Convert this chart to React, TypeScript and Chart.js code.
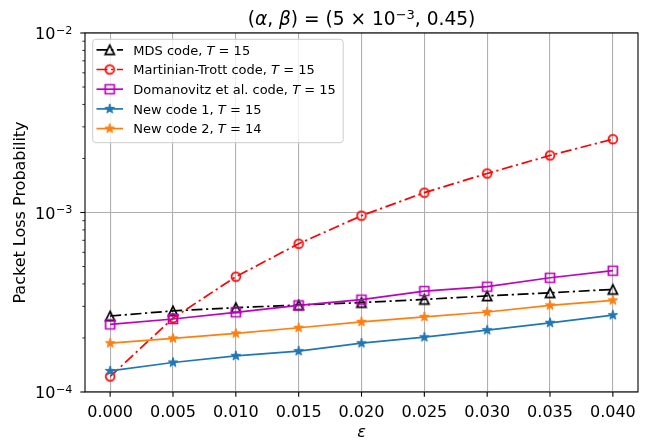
import React, { useEffect, useRef } from 'react';
import { Chart, registerables } from 'chart.js';

Chart.register(...registerables);

// ---------- data ----------
const xValues = [0, 0.005, 0.01, 0.015, 0.02, 0.025, 0.03, 0.035, 0.04];
const mdsValues = [2.65e-4, 2.83e-4, 2.95e-4, 3.05e-4, 3.15e-4, 3.28e-4, 3.43e-4, 3.57e-4, 3.73e-4];
const martinianValues = [1.22e-4, 2.58e-4, 4.39e-4, 6.7e-4, 9.6e-4, 1.29e-3, 1.65e-3, 2.08e-3, 2.56e-3];
const domanovitzValues = [2.38e-4, 2.55e-4, 2.78e-4, 3.04e-4, 3.27e-4, 3.65e-4, 3.86e-4, 4.33e-4, 4.74e-4];
const newCode1Values = [1.31e-4, 1.46e-4, 1.59e-4, 1.69e-4, 1.87e-4, 2.02e-4, 2.21e-4, 2.43e-4, 2.68e-4];
const newCode2Values = [1.87e-4, 1.99e-4, 2.12e-4, 2.28e-4, 2.46e-4, 2.62e-4, 2.79e-4, 3.04e-4, 3.24e-4];

const seriesNames = ['MDS code, ', 'Martinian-Trott code, ', 'Domanovitz et al. code, ', 'New code 1, ', 'New code 2, '];
const seriesT = ['15', '15', '15', '15', '14'];

const xTickValues = [0, 0.005, 0.01, 0.015, 0.02, 0.025, 0.03, 0.035, 0.04];
const xTickLabels = ['0.000', '0.005', '0.010', '0.015', '0.020', '0.025', '0.030', '0.035', '0.040'];
const yMajorTicks = [1e-4, 1e-3, 1e-2];
const yMajorExponents = ['\u22124', '\u22123', '\u22122'];
const yMinorMultipliers = [2, 3, 4, 5, 6, 7, 8, 9];

const titleParts: { t: string; k: 'n' | 'i' | 's' }[] = [
  { t: '(', k: 'n' },
  { t: '\u03b1', k: 'i' },
  { t: ', ', k: 'n' },
  { t: '\u03b2', k: 'i' },
  { t: ') = (5 \u00d7 10', k: 'n' },
  { t: '\u22123', k: 's' },
  { t: ', 0.45)', k: 'n' },
];
const yAxisTitle = 'Packet Loss Probability';
const xAxisTitle = '\u03b5';

// ---------- styles ----------
const FONT = "'DejaVu Sans'";
const colors = ['#000000', '#ff0000', '#bf00bf', '#1f77b4', '#ff7f0e'];
const dashDot = [11, 3.6, 2.2, 3.6];
const dashes = [dashDot, dashDot, [], [], []];
const markerKinds = ['triangle', 'circle', 'square', 'star', 'star'];

function makeMarker(kind: string, color: string): HTMLCanvasElement {
  const c = document.createElement('canvas');
  c.width = 16;
  c.height = 16;
  const g = c.getContext('2d')!;
  const cx = 8, cy = 8;
  g.strokeStyle = color;
  g.fillStyle = color;
  g.lineJoin = 'miter';
  g.beginPath();
  if (kind === 'triangle') {
    const h = 4.6;
    g.moveTo(cx, cy - h);
    g.lineTo(cx - h, cy + h);
    g.lineTo(cx + h, cy + h);
    g.closePath();
    g.lineWidth = 1.7;
    g.stroke();
  } else if (kind === 'circle') {
    g.arc(cx, cy, 4.4, 0, Math.PI * 2);
    g.lineWidth = 1.7;
    g.stroke();
  } else if (kind === 'square') {
    const h = 4.5;
    g.rect(cx - h, cy - h, 2 * h, 2 * h);
    g.lineWidth = 1.7;
    g.stroke();
  } else {
    const R = 5.1, r = R * 0.381966;
    for (let i = 0; i < 10; i++) {
      const rad = i % 2 === 0 ? R : r;
      const a = -Math.PI / 2 + (i * Math.PI) / 5;
      const px = cx + rad * Math.cos(a);
      const py = cy + rad * Math.sin(a);
      if (i === 0) g.moveTo(px, py);
      else g.lineTo(px, py);
    }
    g.closePath();
    g.fill();
    g.lineWidth = 1;
    g.stroke();
  }
  return c;
}

const isMajor = (v: number) => {
  const l = Math.log10(v);
  return Math.abs(l - Math.round(l)) < 1e-9;
};

export default function App() {
  const ref = useRef<HTMLCanvasElement | null>(null);

  useEffect(() => {
    document.body.style.margin = '0';
    const canvas = ref.current;
    if (!canvas) return;

    const markers = markerKinds.map((k, i) => makeMarker(k, colors[i]));
    const seriesValues = [mdsValues, martinianValues, domanovitzValues, newCode1Values, newCode2Values];

    const yAllTicks: number[] = [];
    yMajorTicks.forEach((m, i) => {
      yAllTicks.push(m);
      if (i < yMajorTicks.length - 1) yMinorMultipliers.forEach((k) => yAllTicks.push(k * m));
    });

    const decor = {
      id: 'decor',
      afterDatasetsDraw(chart: any) {
        const ctx = chart.ctx as CanvasRenderingContext2D;
        const a = chart.chartArea;
        const xs = chart.scales.x;
        const ys = chart.scales.y;
        ctx.save();
        ctx.strokeStyle = '#000';
        ctx.lineWidth = 1.1;
        ctx.setLineDash([]);
        ctx.strokeRect(a.left, a.top, a.right - a.left, a.bottom - a.top);
        xTickValues.forEach((v) => {
          const px = xs.getPixelForValue(v);
          ctx.beginPath();
          ctx.moveTo(px, a.bottom);
          ctx.lineTo(px, a.bottom + 4.7);
          ctx.stroke();
        });
        yAllTicks.forEach((v) => {
          const py = ys.getPixelForValue(v);
          const major = isMajor(v);
          ctx.lineWidth = major ? 1.1 : 0.8;
          ctx.beginPath();
          ctx.moveTo(a.left, py);
          ctx.lineTo(a.left - (major ? 4.7 : 2.7), py);
          ctx.stroke();
        });
        ctx.restore();
      },
      afterDraw(chart: any) {
        const ctx = chart.ctx as CanvasRenderingContext2D;
        const a = chart.chartArea;
        const xs = chart.scales.x;
        const ys = chart.scales.y;
        ctx.save();
        ctx.fillStyle = '#000';
        ctx.textBaseline = 'alphabetic';

        ctx.font = `16px ${FONT}`;
        ctx.textAlign = 'center';
        xTickValues.forEach((v, i) => {
          ctx.fillText(xTickLabels[i], xs.getPixelForValue(v), 417.3);
        });

        yMajorTicks.forEach((v, i) => {
          const py = ys.getPixelForValue(v);
          ctx.font = `11.2px ${FONT}`;
          ctx.textAlign = 'right';
          const right = 72.4;
          const supW = ctx.measureText(yMajorExponents[i]).width;
          ctx.fillText(yMajorExponents[i], right, py + 6.2 - 5.6);
          ctx.font = `16px ${FONT}`;
          ctx.fillText('10', right - supW - 0.6, py + 6.2);
        });

        ctx.font = `italic 16px ${FONT}`;
        ctx.textAlign = 'center';
        ctx.fillText(xAxisTitle, (a.left + a.right) / 2, 436.5);
        ctx.save();
        ctx.font = `16px ${FONT}`;
        ctx.translate(25, (a.top + a.bottom) / 2);
        ctx.rotate(-Math.PI / 2);
        ctx.fillText(yAxisTitle, 0, 0);
        ctx.restore();

        const tSize = 18.6;
        const fontFor = (k: string) =>
          k === 'i' ? `italic ${tSize}px ${FONT}` : k === 's' ? `${tSize * 0.7}px ${FONT}` : `${tSize}px ${FONT}`;
        ctx.textAlign = 'left';
        let total = 0;
        titleParts.forEach((p) => {
          ctx.font = fontFor(p.k);
          total += ctx.measureText(p.t).width;
        });
        let tx = (a.left + a.right) / 2 - total / 2;
        titleParts.forEach((p) => {
          ctx.font = fontFor(p.k);
          ctx.fillText(p.t, tx, p.k === 's' ? 25 - 6.5 : 25);
          tx += ctx.measureText(p.t).width;
        });

        const bx = 92.7, by = 39.3, bw = 250.5, bh = 103.4, br = 3;
        ctx.beginPath();
        ctx.moveTo(bx + br, by);
        ctx.lineTo(bx + bw - br, by);
        ctx.quadraticCurveTo(bx + bw, by, bx + bw, by + br);
        ctx.lineTo(bx + bw, by + bh - br);
        ctx.quadraticCurveTo(bx + bw, by + bh, bx + bw - br, by + bh);
        ctx.lineTo(bx + br, by + bh);
        ctx.quadraticCurveTo(bx, by + bh, bx, by + bh - br);
        ctx.lineTo(bx, by + br);
        ctx.quadraticCurveTo(bx, by, bx + br, by);
        ctx.closePath();
        ctx.fillStyle = 'rgba(255,255,255,0.8)';
        ctx.fill();
        ctx.strokeStyle = '#cccccc';
        ctx.lineWidth = 1;
        ctx.stroke();

        seriesNames.forEach((name, i) => {
          const cy = 49.8 + i * 19.7;
          ctx.strokeStyle = colors[i];
          ctx.lineWidth = 1.7;
          ctx.setLineDash(dashes[i]);
          ctx.beginPath();
          ctx.moveTo(96.5, cy);
          ctx.lineTo(123, cy);
          ctx.stroke();
          ctx.setLineDash([]);
          ctx.drawImage(markers[i], 109.7 - 8, cy - 8);
          ctx.fillStyle = '#000';
          let lx = 133.3;
          const base = cy + 4.8;
          ctx.font = `13px ${FONT}`;
          ctx.fillText(name, lx, base);
          lx += ctx.measureText(name).width;
          ctx.font = `italic 13px ${FONT}`;
          ctx.fillText('T', lx, base);
          lx += ctx.measureText('T').width;
          ctx.font = `13px ${FONT}`;
          ctx.fillText(' = ' + seriesT[i], lx, base);
        });
        ctx.restore();
      },
    };

    const chart = new Chart(canvas, {
      type: 'line',
      data: {
        datasets: seriesValues.map((vals, i) => ({
          label: seriesNames[i] + 'T = ' + seriesT[i],
          data: vals.map((y, j) => ({ x: xValues[j], y })),
          borderColor: colors[i],
          backgroundColor: colors[i],
          borderWidth: 1.7,
          borderDash: dashes[i],
          pointStyle: markers[i] as any,
          pointRadius: 5,
          pointHoverRadius: 5,
          tension: 0,
          fill: false,
          order: seriesValues.length - i,
        })),
      },
      options: {
        responsive: false,
        animation: false,
        devicePixelRatio: 1,
        events: [],
        layout: { padding: { left: 0, top: 33, right: 14, bottom: 0 } },
        plugins: {
          legend: { display: false },
          title: { display: false },
          tooltip: { enabled: false },
        },
        scales: {
          x: {
            type: 'linear',
            min: -0.002,
            max: 0.042,
            border: { display: false },
            grid: { color: '#b0b0b0', lineWidth: 1.1, drawTicks: false },
            ticks: { display: false },
            afterBuildTicks: (scale: any) => {
              scale.ticks = xTickValues.map((v) => ({ value: v }));
            },
            afterFit: (scale: any) => {
              scale.height = 48;
            },
          },
          y: {
            type: 'logarithmic',
            min: 1e-4,
            max: 1e-2,
            border: { display: false },
            grid: {
              drawTicks: false,
              lineWidth: 1.1,
              color: (c: any) => (c.tick && isMajor(c.tick.value) ? '#b0b0b0' : 'rgba(0,0,0,0)'),
            },
            ticks: { display: false },
            afterBuildTicks: (scale: any) => {
              scale.ticks = yAllTicks.map((v) => ({ value: v, major: isMajor(v) }));
            },
            afterFit: (scale: any) => {
              scale.width = 85;
            },
          },
        },
      },
      plugins: [decor],
    } as any);

    return () => {
      chart.destroy();
    };
  }, []);

  return (
    <div style={{ width: 652, height: 440 }}>
      <canvas ref={ref} width={652} height={440} style={{ display: 'block', width: 652, height: 440 }} />
    </div>
  );
}
